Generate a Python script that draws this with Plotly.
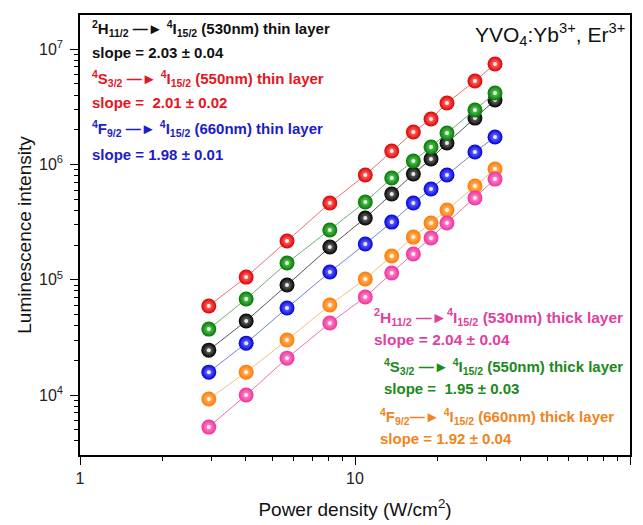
import plotly.graph_objects as go

# Power density (W/cm^2)
power = [2.94, 4.02, 5.66, 8.1, 10.9, 13.6, 16.3, 18.9, 21.6, 27.3, 32.3]

# Luminescence intensity per series
thin_530 = [24500, 43900, 89900, 192300, 342800, 553400, 826000, 1114000, 1535000, 2523000, 3622000]
thin_550 = [59200, 105400, 216800, 462400, 809000, 1306000, 1910000, 2477000, 3412000, 5284000, 7430000]
thin_660 = [15800, 28200, 56900, 116700, 204200, 316200, 462400, 612400, 809000, 1282000, 1730000]
thick_530 = [5270, 10000, 20900, 42100, 70800, 114300, 167100, 230100, 310500, 511700, 746400]
thick_550 = [37300, 68100, 139600, 269800, 472100, 762100, 1069000, 1416000, 1871000, 2965000, 4159000]
thick_660 = [9230, 15800, 30000, 60400, 101400, 160700, 234400, 310500, 401800, 650100, 912000]

ytick_vals = [1e4, 1e5, 1e6, 1e7]
ytick_text = ["10<sup>4</sup>", "10<sup>5</sup>", "10<sup>6</sup>", "10<sup>7</sup>"]
xtick_vals = [1, 10, 100]
xtick_text = ["1", "10", "100"]

# (values, marker colour, gradient centre tint, line colour)
series = [
    (thin_550, "#e00000", "#ff8080", "#f07070"),
    (thin_660, "#0000e0", "#8080ff", "#7080e0"),
    (thin_530, "#000000", "#808080", "#555555"),
    (thick_550, "#007a00", "#70d070", "#70b070"),
    (thick_660, "#ff7a00", "#ffc080", "#f0c080"),
    (thick_530, "#f0309c", "#ff9ad0", "#e870b8"),
]

fig = go.Figure()
for vals, mcol, tint, lcol in series:
    fig.add_trace(go.Scatter(
        x=power, y=vals, mode="lines+markers",
        line=dict(color=lcol, width=1),
        marker=dict(size=15, color=mcol, line=dict(width=0),
                    gradient=dict(type="radial", color=tint)),
        showlegend=False, hoverinfo="skip",
    ))
    fig.add_trace(go.Scatter(
        x=power, y=vals, mode="markers",
        marker=dict(size=4, color="rgba(255,255,255,0.85)", line=dict(width=0)),
        showlegend=False, hoverinfo="skip",
    ))

FONT = "Liberation Sans, Arial, sans-serif"
ARROW = "\u2014\u25BA"

def ann(px, py, text, color, size=15, bold=True, xanchor="left"):
    t = f"<b>{text}</b>" if bold else text
    fig.add_annotation(
        x=(px - 80) / 550, y=(455 - py) / 440, xref="paper", yref="paper",
        text=t, showarrow=False, xanchor=xanchor, yanchor="middle",
        font=dict(family=FONT, size=size, color=color),
    )

black = "#111111"; red = "#e8141e"; blue = "#1c1cc8"
pink = "#e040a0"; green = "#1a8a1a"; orange = "#f08420"

ann(90, 28, f"<sup>2</sup>H<sub>11/2</sub> {ARROW} <sup>4</sup>I<sub>15/2</sub> (530nm) thin layer", black)
ann(90, 52, "slope = 2.03 ± 0.04", black)
ann(90, 78, f"<sup>4</sup>S<sub>3/2</sub> {ARROW} <sup>4</sup>I<sub>15/2</sub> (550nm) thin layer", red)
ann(90, 102, "slope =  2.01 ± 0.02", red)
ann(90, 129, f"<sup>4</sup>F<sub>9/2</sub> {ARROW} <sup>4</sup>I<sub>15/2</sub> (660nm) thin layer", blue)
ann(90, 154, "slope = 1.98 ± 0.01", blue)

ann(372, 317, f"<sup>2</sup>H<sub>11/2</sub> {ARROW}<sup>4</sup>I<sub>15/2</sub> (530nm) thick layer", pink, size=15.5)
ann(372, 339, "slope = 2.04 ± 0.04", pink, size=15.5)
ann(382, 366, f"<sup>4</sup>S<sub>3/2</sub> {ARROW} <sup>4</sup>I<sub>15/2</sub> (550nm) thick layer", green, size=15)
ann(382, 388, "slope =  1.95 ± 0.03", green, size=15)
ann(378, 416, f"<sup>4</sup>F<sub>9/2</sub>{ARROW} <sup>4</sup>I<sub>15/2</sub> (660nm) thick layer", orange, size=15)
ann(378, 438, "slope = 1.92 ± 0.04", orange, size=15)

ann(627, 34, "YVO<sub>4</sub>:Yb<sup>3+</sup>, Er<sup>3+</sup>", black, size=21, bold=False, xanchor="right")

axis_common = dict(
    type="log", showgrid=False, zeroline=False, automargin=False,
    showline=True, linecolor="black", linewidth=1.5, mirror=True,
    ticks="outside", ticklen=8, tickwidth=1.3, tickcolor="black",
    tickfont=dict(family=FONT, size=16, color="#222"),
    minor=dict(ticks="outside", ticklen=4, tickwidth=1, tickcolor="black", dtick="D1", showgrid=False),
)

fig.update_xaxes(**axis_common, range=[0, 2], tickvals=xtick_vals, ticktext=xtick_text,
                 title=dict(text="Power density (W/cm<sup>2</sup>)", font=dict(family=FONT, size=19, color="#111"), standoff=17))
fig.update_yaxes(**axis_common, range=[3.48, 7.296], tickvals=ytick_vals, ticktext=ytick_text,
                 ticklabelstandoff=4,
                 title=dict(text="Luminescence intensity", font=dict(family=FONT, size=19, color="#111"), standoff=2))

# page body has an 8px default margin, so the figure is drawn 8px in and down
fig.update_layout(
    width=635, height=517,
    margin=dict(l=72, r=13, t=7, b=70),
    plot_bgcolor="white", paper_bgcolor="white",
    font=dict(family=FONT),
)

fig.write_html("out.html")
